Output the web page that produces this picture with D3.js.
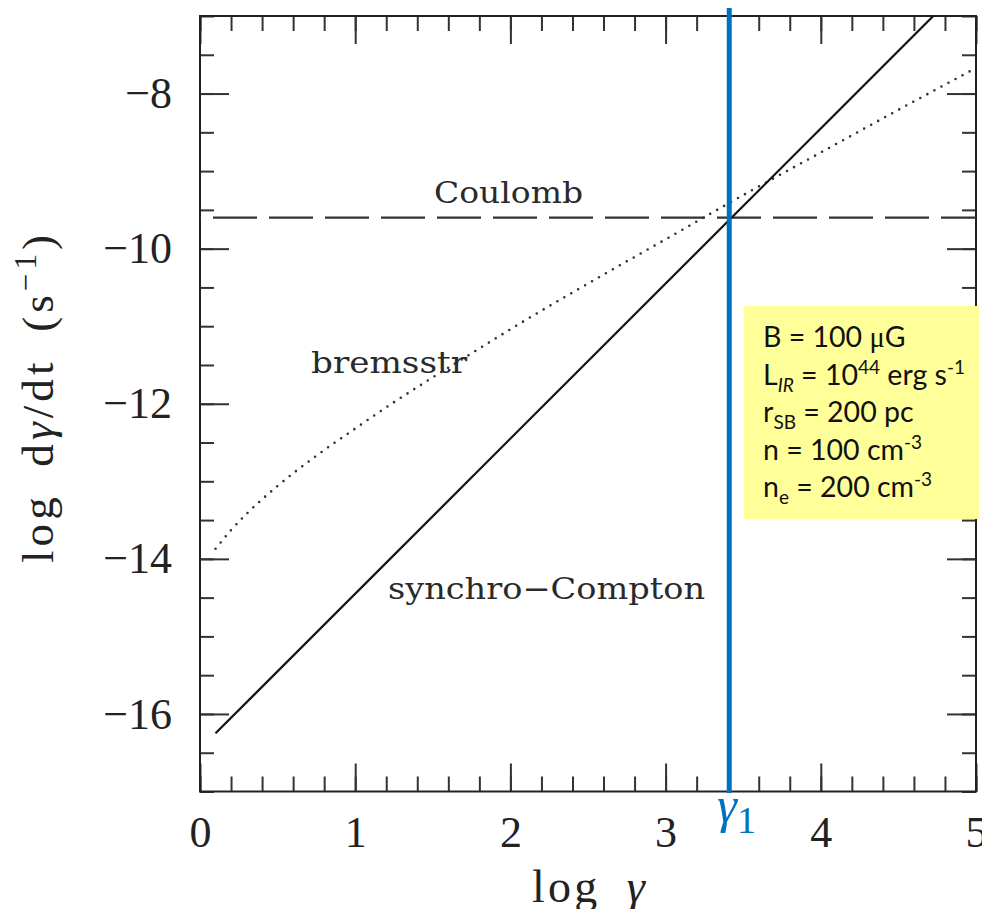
<!DOCTYPE html>
<html>
<head>
<meta charset="utf-8">
<script src="https://cdn.jsdelivr.net/npm/d3@7"></script>
<style>
  html, body { margin: 0; padding: 0; background: #fff; }
  svg { display: block; }
</style>
</head>
<body>
<svg id="chart" width="982" height="909"></svg>
<script>
// Electron energy-loss rates versus Lorentz factor
const xMajorTicks = [0, 1, 2, 3, 4, 5];
const xMinorTicks = d3.range(0, 5.001, 0.2).map(v => +v.toFixed(1));
const yMajorTicks = [-8, -10, -12, -14, -16];
const yMinorTicks = d3.range(-17, -6.999, 0.5).map(v => +v.toFixed(1));

// synchrotron + inverse-Compton losses (straight line in log-log)
const synchroX = [0.1, 4.725];
const synchroY = [-16.25, -7.0];

// Coulomb losses (flat)
const coulombX = [0, 5];
const coulombY = [-9.6, -9.6];

// bremsstrahlung losses
const bremsX = [0.1, 0.2, 0.3, 0.5, 0.75, 1, 1.25, 1.5, 1.75, 2, 2.5, 3, 3.5, 4, 4.5, 5];
const bremsY = [-13.87, -13.63, -13.42, -13.06, -12.67, -12.32, -11.98, -11.66, -11.35, -11.04, -10.45, -9.88, -9.31, -8.76, -8.21, -7.67];

// break Lorentz factor where losses balance
const gamma1 = 3.41;

// model parameters
const paramLines = [
  [{t: "B = 100 "}, {t: "\u03BC", f: "Liberation Serif"}, {t: "G"}],
  [{t: "L"}, {t: "IR", sub: true, it: true}, {t: " = 10"}, {t: "44", sup: true}, {t: " erg s"}, {t: "-1", sup: true}],
  [{t: "r"}, {t: "SB", sub: true}, {t: " = 200 pc"}],
  [{t: "n = 100 cm"}, {t: "-3", sup: true}],
  [{t: "n"}, {t: "e", sub: true}, {t: " = 200 cm"}, {t: "-3", sup: true}]
];

const svg = d3.select("#chart");
const plotLeft = 200, plotRight = 976, plotTop = 16, plotBottom = 791.5;

const x = d3.scaleLinear().domain([0, 5]).range([plotLeft, plotRight]);
const y = d3.scaleLinear().domain([-7, -17]).range([plotTop, plotBottom]);

const tickColor = "#333";
const serif = "'Liberation Serif', 'Times New Roman', serif";

function styleAxis(g) {
  g.select(".domain").remove();
  g.selectAll(".tick line").attr("stroke", tickColor).attr("stroke-width", 2);
  g.selectAll(".tick text")
    .attr("fill", "#222")
    .style("font-family", serif)
    .style("font-size", "44px");
}

// minor ticks
svg.append("g").attr("transform", `translate(0,${plotBottom})`)
  .call(d3.axisBottom(x).tickValues(xMinorTicks).tickSize(-15).tickFormat(""))
  .call(styleAxis);
svg.append("g").attr("transform", `translate(0,${plotTop})`)
  .call(d3.axisTop(x).tickValues(xMinorTicks).tickSize(-15).tickFormat(""))
  .call(styleAxis);
svg.append("g").attr("transform", `translate(${plotLeft},0)`)
  .call(d3.axisLeft(y).tickValues(yMinorTicks).tickSize(-14).tickFormat(""))
  .call(styleAxis);
svg.append("g").attr("transform", `translate(${plotRight},0)`)
  .call(d3.axisRight(y).tickValues(yMinorTicks).tickSize(-14).tickFormat(""))
  .call(styleAxis);

// major ticks with labels
svg.append("g").attr("transform", `translate(0,${plotBottom})`)
  .call(d3.axisBottom(x).tickValues(xMajorTicks).tickSize(-28).tickPadding(24).tickFormat(d3.format("d")))
  .call(styleAxis);
svg.append("g").attr("transform", `translate(0,${plotTop})`)
  .call(d3.axisTop(x).tickValues(xMajorTicks).tickSize(-28).tickFormat(""))
  .call(styleAxis);
svg.append("g").attr("transform", `translate(${plotLeft},0)`)
  .call(d3.axisLeft(y).tickValues(yMajorTicks).tickSize(-29).tickPadding(28).tickFormat(d3.format("d")))
  .call(styleAxis);
svg.append("g").attr("transform", `translate(${plotRight},0)`)
  .call(d3.axisRight(y).tickValues(yMajorTicks).tickSize(-29).tickFormat(""))
  .call(styleAxis);

// frame
svg.append("rect")
  .attr("x", plotLeft).attr("y", plotTop)
  .attr("width", plotRight - plotLeft).attr("height", plotBottom - plotTop)
  .attr("fill", "none").attr("stroke", "#222").attr("stroke-width", 2);

svg.append("clipPath").attr("id", "clip")
  .append("rect").attr("x", plotLeft).attr("y", plotTop)
  .attr("width", plotRight - plotLeft).attr("height", plotBottom - plotTop);
const plot = svg.append("g").attr("clip-path", "url(#clip)");

const line = d3.line().x(d => x(d[0])).y(d => y(d[1]));

// Coulomb
plot.append("path")
  .datum(d3.zip(coulombX, coulombY))
  .attr("d", line)
  .attr("fill", "none").attr("stroke", "#333").attr("stroke-width", 2.2)
  .attr("stroke-dasharray", "44,12").attr("stroke-dashoffset", 43);

// bremsstrahlung
plot.append("path")
  .datum(d3.zip(bremsX, bremsY))
  .attr("d", d3.line().x(d => x(d[0])).y(d => y(d[1])).curve(d3.curveMonotoneX))
  .attr("fill", "none").attr("stroke", "#333").attr("stroke-width", 2.6)
  .attr("stroke-linecap", "round")
  .attr("stroke-dasharray", "0,8");

// synchro-Compton
plot.append("path")
  .datum(d3.zip(synchroX, synchroY))
  .attr("d", line)
  .attr("fill", "none").attr("stroke", "#111").attr("stroke-width", 2.2);

// curve labels
const labelFont = "'DejaVu Serif', serif";
function curveLabel(text, px, py, len) {
  svg.append("text")
    .attr("x", px).attr("y", py)
    .attr("textLength", len)
    .attr("lengthAdjust", "spacingAndGlyphs")
    .attr("fill", "#2a2a2a")
    .style("font-family", labelFont)
    .style("font-size", "30px")
    .text(text);
}
curveLabel("Coulomb", 434, 203, 149);
curveLabel("bremsstr", 311, 373, 156);
curveLabel("synchro\u2212Compton", 388, 599, 317);

// axis titles
svg.append("text")
  .attr("x", 532).attr("y", 902)
  .attr("textLength", 113)
  .attr("fill", "#222")
  .style("font-family", serif).style("font-size", "46px")
  .call(t => {
    t.append("tspan").text("log\u2002");
    t.append("tspan").style("font-style", "italic").text("\u03B3");
  });

svg.append("text")
  .attr("transform", "translate(53,563) rotate(-90)")
  .attr("textLength", 328)
  .attr("fill", "#222")
  .style("font-family", serif).style("font-size", "45px")
  .call(t => {
    t.append("tspan").text("log\u2002d");
    t.append("tspan").style("font-style", "italic").text("\u03B3");
    t.append("tspan").text("/dt\u2002(s");
    t.append("tspan").attr("dy", -17).style("font-size", "31px").text("\u22121");
    t.append("tspan").attr("dy", 17).text(")");
  });

// gamma_1 marker
svg.append("line")
  .attr("x1", x(gamma1)).attr("x2", x(gamma1))
  .attr("y1", 8).attr("y2", 793)
  .attr("stroke", "#0070C0").attr("stroke-width", 5);

svg.append("text")
  .attr("x", x(gamma1) - 12).attr("y", 822)
  .attr("fill", "#0070C0")
  .style("font-family", serif)
  .call(t => {
    t.append("tspan").style("font-style", "italic").style("font-size", "50px").text("\u03B3");
    t.append("tspan").attr("dy", 11).style("font-size", "38px").text("1");
  });

// parameter box
svg.append("rect")
  .attr("x", 744).attr("y", 306)
  .attr("width", 235).attr("height", 213)
  .attr("fill", "#FFFF99");

const boxFont = "Lato, 'Open Sans', sans-serif";
paramLines.forEach((parts, i) => {
  const t = svg.append("text")
    .attr("x", 763).attr("y", 347 + i * 37.5)
    .attr("fill", "#111")
    .style("font-family", boxFont)
    .style("font-size", "28.5px");
  let shift = 0;
  parts.forEach(p => {
    const s = t.append("tspan").text(p.t);
    if (p.f) s.style("font-family", p.f);
    if (p.it) s.style("font-style", "italic");
    let target = 0;
    if (p.sub) { s.style("font-size", "19px"); target = 7; }
    if (p.sup) { s.style("font-size", "19px"); target = -11; }
    if (target - shift !== 0) s.attr("dy", target - shift);
    shift = target;
  });
});
</script>
</body>
</html>
